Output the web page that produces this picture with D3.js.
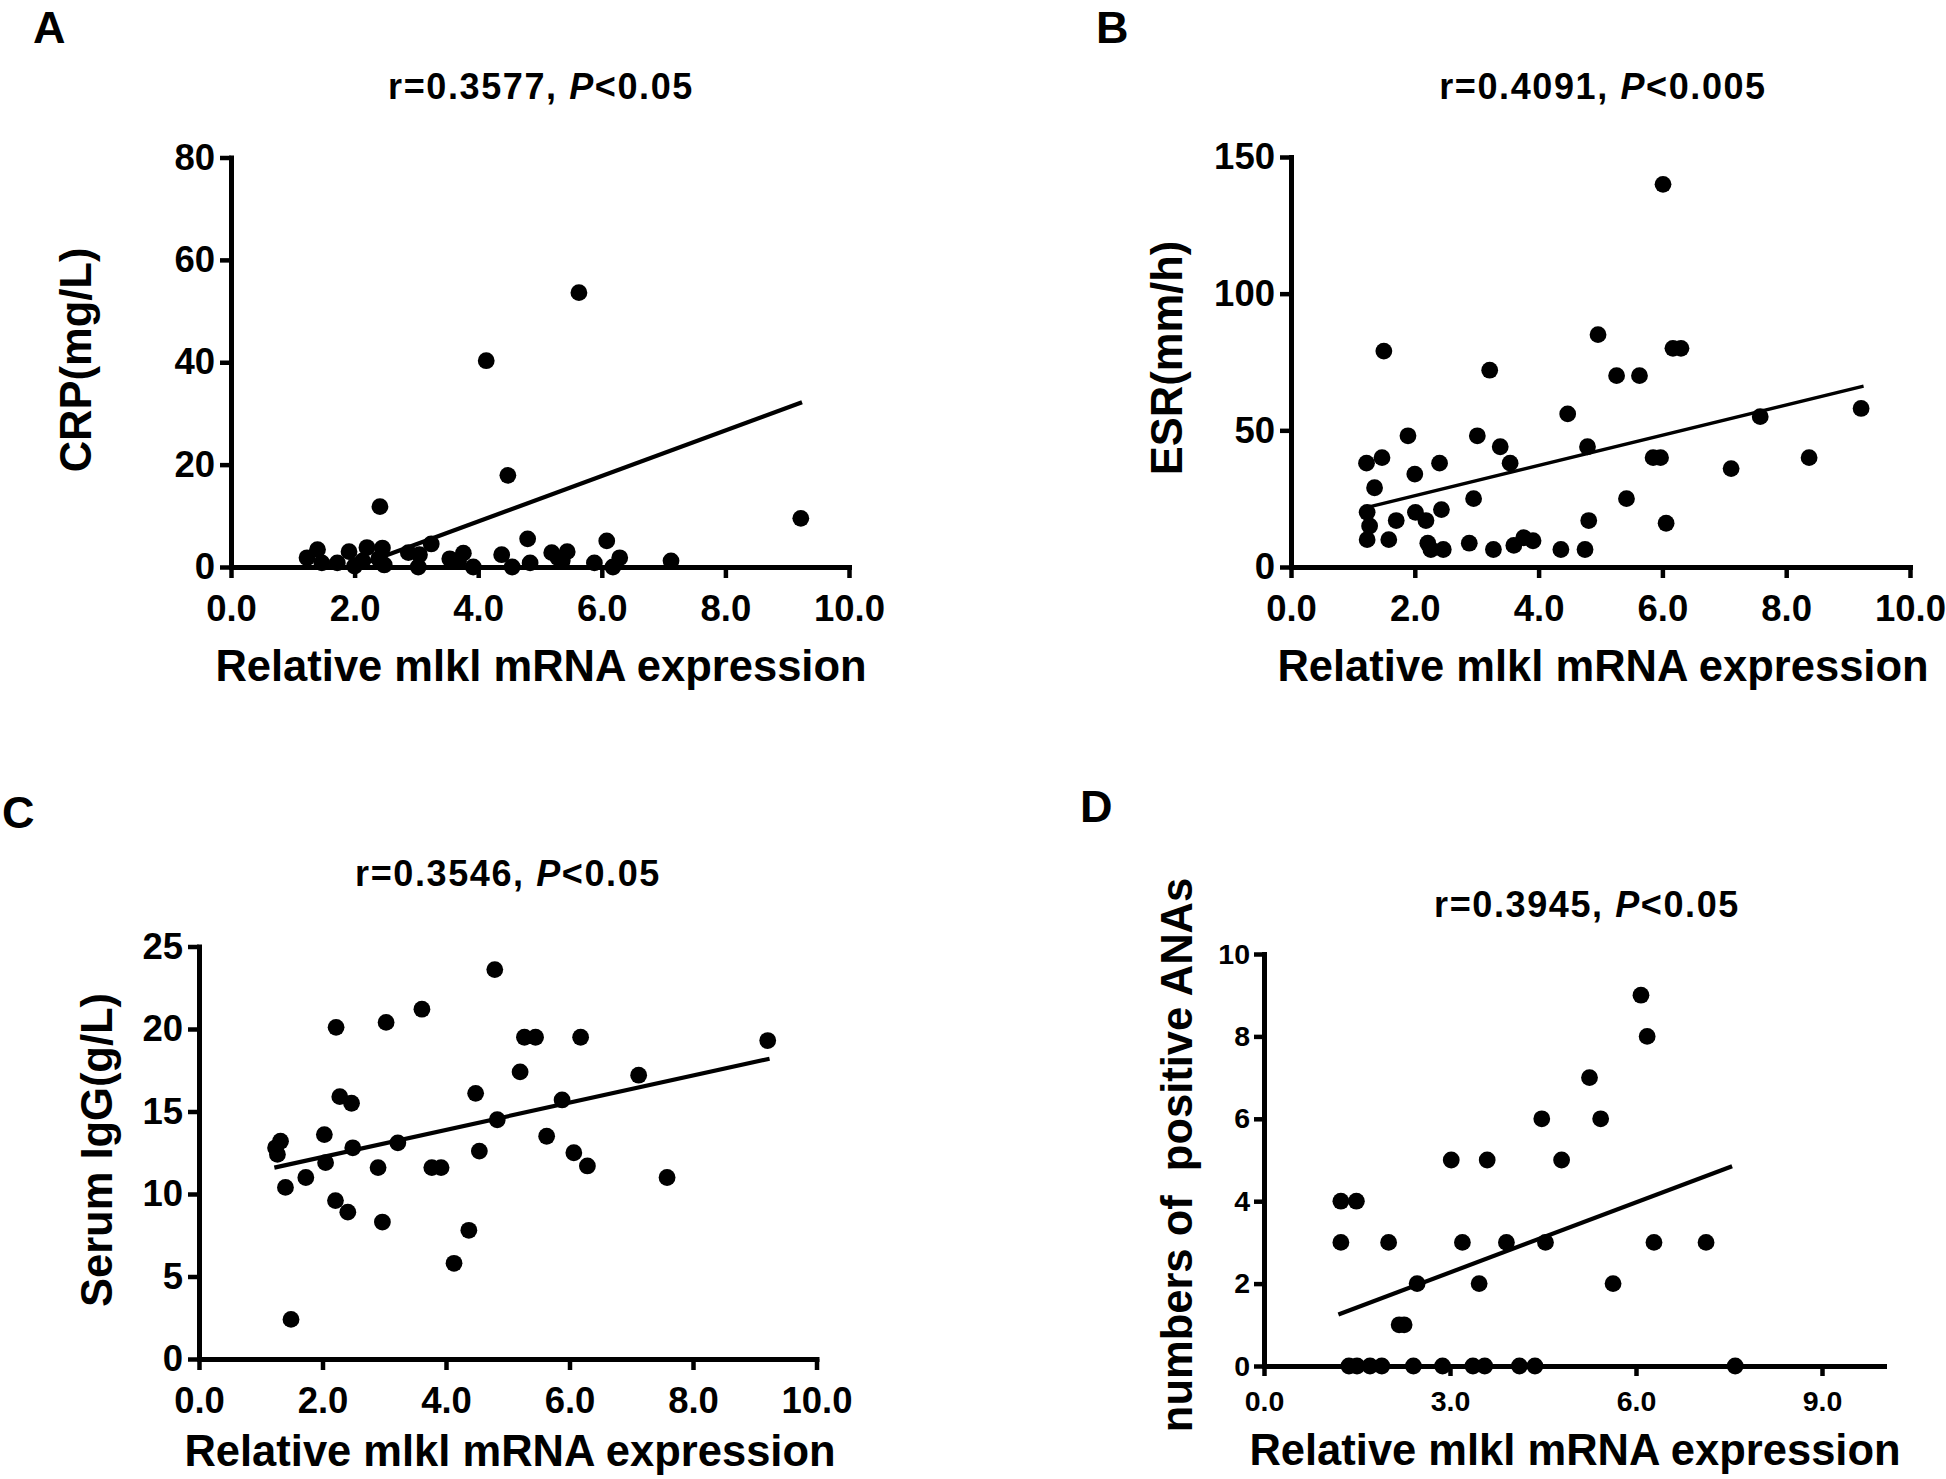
<!DOCTYPE html>
<html>
<head>
<meta charset="utf-8">
<script src="https://cdn.jsdelivr.net/npm/d3@7"></script>
<style>
  html, body { margin: 0; padding: 0; background: #fff; }
  svg { display: block; }
  text { font-family: "Liberation Sans", Arial, Helvetica, sans-serif; font-weight: bold; fill: #000; }
</style>
</head>
<body>
<svg id="chart" width="1946" height="1479"></svg>
<script>
// ---------------- DATA ----------------
const xLabel = "Relative mlkl mRNA expression";

// Panel A: CRP
const crpTitle = ["r=0.3577, ", "P", "<0.05"];
const crpYLabel = "CRP(mg/L)";
const crpYTicks = [0, 20, 40, 60, 80];
const crpXTicks = [0, 2, 4, 6, 8, 10];
const crpPoints = [
  [5.63,53.6],[4.13,40.3],[4.48,17.9],[2.41,11.8],[9.22,9.5],[4.80,5.5],[6.08,5.1],
  [1.40,3.4],[1.23,1.8],[1.47,0.8],[1.72,0.8],[1.91,3.0],[2.00,0.2],[2.20,3.8],
  [2.13,1.2],[2.45,3.7],[2.39,1.6],[2.48,0.4],[2.87,2.8],[3.03,0.0],[3.05,2.4],
  [3.24,4.5],[3.54,1.6],[3.76,2.7],[3.68,1.1],[3.92,0.0],[4.38,2.4],[4.55,0.0],
  [4.84,0.8],[5.19,2.8],[5.44,3.0],[5.36,1.2],[5.88,0.8],[6.18,0.0],[6.29,1.8],
  [7.12,1.2],[5.29,1.8]
];
const crpFit = [[2.0, 0], [9.24, 32.2]];

// Panel B: ESR
const esrTitle = ["r=0.4091, ", "P", "<0.005"];
const esrYLabel = "ESR(mm/h)";
const esrYTicks = [0, 50, 100, 150];
const esrXTicks = [0, 2, 4, 6, 8, 10];
const esrPoints = [
  [6.01,140],[4.96,85],[1.50,79],[6.17,80],[6.30,80],[3.21,72],[5.26,70],[5.63,70],
  [4.47,56],[7.58,55],[9.21,58],[1.89,48],[3.01,48],[3.38,44],[4.79,44],[1.22,38],
  [1.47,40],[2.40,38],[3.54,38],[5.85,40],[5.97,40],[8.37,40],[7.11,36],[2.00,34],
  [1.35,29],[2.95,25],[5.42,25],[1.23,20],[2.01,20],[2.43,21],[1.27,15],[1.70,17],
  [2.18,17],[4.81,17],[6.06,16],[1.23,10],[1.58,10],[2.21,8.7],[2.26,6.4],[2.46,6.4],
  [2.88,8.7],[3.27,6.4],[3.60,7.9],[3.76,10.7],[3.91,9.6],[4.36,6.4],[4.75,6.4]
];
const esrFit = [[1.23, 21.8], [9.25, 66.2]];

// Panel C: Serum IgG
const iggTitle = ["r=0.3546, ", "P", "<0.05"];
const iggYLabel = "Serum IgG(g/L)";
const iggYTicks = [0, 5, 10, 15, 20, 25];
const iggXTicks = [0, 2, 4, 6, 8, 10];
const iggPoints = [
  [4.79,23.6],[3.61,21.2],[3.03,20.4],[2.22,20.1],[5.27,19.5],[5.45,19.5],[6.18,19.5],
  [9.21,19.3],[5.20,17.4],[7.12,17.2],[4.48,16.1],[2.28,15.9],[2.47,15.5],[5.88,15.7],
  [4.83,14.5],[2.03,13.6],[5.63,13.5],[3.22,13.1],[2.49,12.8],[1.32,13.2],[1.24,12.8],
  [1.27,12.4],[4.54,12.6],[6.07,12.5],[2.05,11.9],[2.90,11.6],[3.77,11.6],[3.92,11.6],
  [6.29,11.7],[1.73,11.0],[7.58,11.0],[1.40,10.4],[2.21,9.6],[2.41,8.9],[2.97,8.3],
  [4.37,7.8],[4.13,5.8],[1.49,2.4]
];
const iggFit = [[1.22, 11.6], [9.24, 18.2]];

// Panel D: numbers of positive ANAs
const anaTitle = ["r=0.3945, ", "P", "<0.05"];
const anaYLabel = "numbers of  positive ANAs";
const anaYTicks = [0, 2, 4, 6, 8, 10];
const anaXTicks = [0, 3, 6, 9];
const anaPoints = [
  [6.08,9],[6.18,8],[5.25,7],[4.48,6],[5.43,6],[3.02,5],[3.60,5],[4.80,5],
  [1.24,4],[1.49,4],[1.24,3],[2.01,3],[3.20,3],[3.91,3],[4.54,3],[6.29,3],[7.13,3],
  [2.47,2],[3.47,2],[5.63,2],[2.18,1],[2.26,1],
  [1.37,0],[1.50,0],[1.71,0],[1.90,0],[2.41,0],[2.88,0],[3.37,0],[3.56,0],
  [4.12,0],[4.37,0],[7.60,0]
];
const anaFit = [[1.20, 1.25], [7.55, 4.85]];

// ---------------- LAYOUT ----------------
const panels = [
  { letter: "A", lx: 33, ly: 43, title: crpTitle, tx: 541, ty: 99,
    yLabel: crpYLabel, ylx: 91, yly: 360, xlx: 541, xly: 681,
    points: crpPoints, fit: crpFit, xTicks: crpXTicks, yTicks: crpYTicks, yMax: 80,
    x0: 231, x1: 849, y0: 567, y1: 157.5, tickFont: 36.5, tickLen: 11, xPad: 17, yPad: 5, fitW: 4.3 },
  { letter: "B", lx: 1096, ly: 43, title: esrTitle, tx: 1603, ty: 99,
    yLabel: esrYLabel, ylx: 1182, yly: 358, xlx: 1603, xly: 681,
    points: esrPoints, fit: esrFit, xTicks: esrXTicks, yTicks: esrYTicks, yMax: 150,
    x0: 1291, x1: 1910, y0: 567, y1: 157, tickFont: 36.5, tickLen: 11, xPad: 17, yPad: 5, fitW: 3.4 },
  { letter: "C", lx: 2, ly: 828, title: iggTitle, tx: 508, ty: 886,
    yLabel: iggYLabel, ylx: 112, yly: 1150, xlx: 510, xly: 1466,
    points: iggPoints, fit: iggFit, xTicks: iggXTicks, yTicks: iggYTicks, yMax: 25,
    x0: 199, x1: 816.5, y0: 1359, y1: 946.5, tickFont: 36.5, tickLen: 11, xPad: 17, yPad: 5, fitW: 4.2 },
  { letter: "D", lx: 1080, ly: 822, title: anaTitle, tx: 1587, ty: 917,
    yLabel: anaYLabel, ylx: 1192, yly: 1155, xlx: 1575, xly: 1465,
    points: anaPoints, fit: anaFit, xTicks: anaXTicks, yTicks: anaYTicks, yMax: 10,
    x0: 1264, x1: 1884, y0: 1366, y1: 954, tickFont: 28.5, tickLen: 10, xPad: 15, yPad: 4, fitW: 4.2 }
];

const svg = d3.select("#chart");
svg.append("rect").attr("width", 1946).attr("height", 1479).attr("fill", "#fff");

panels.forEach(p => {
  const g = svg.append("g");
  const x = d3.scaleLinear().domain([0, 10]).range([p.x0, p.x1]);
  const y = d3.scaleLinear().domain([0, p.yMax]).range([p.y0, p.y1]);

  // panel letter
  g.append("text").attr("x", p.lx).attr("y", p.ly)
    .attr("font-size", 45).text(p.letter);

  // title with italic P
  const t = g.append("text").attr("x", p.tx).attr("y", p.ty)
    .attr("text-anchor", "middle").attr("font-size", 36)
    .attr("letter-spacing", 1.6);
  t.append("tspan").text(p.title[0]);
  t.append("tspan").attr("font-style", "italic").text(p.title[1]);
  t.append("tspan").text(p.title[2]);

  // axes
  const xAxis = d3.axisBottom(x).tickValues(p.xTicks)
    .tickFormat(d3.format(".1f")).tickSize(p.tickLen).tickSizeOuter(0).tickPadding(p.xPad);
  const yAxis = d3.axisLeft(y).tickValues(p.yTicks)
    .tickFormat(d3.format("d")).tickSize(p.tickLen).tickSizeOuter(0).tickPadding(p.yPad);

  const gx = g.append("g").attr("transform", `translate(0,${p.y0})`).call(xAxis);
  const gy = g.append("g").attr("transform", `translate(${p.x0},0)`).call(yAxis);
  [gx, gy].forEach(a => {
    a.select(".domain").attr("stroke", "#000").attr("stroke-width", 5).attr("stroke-linecap", "square");
    a.selectAll(".tick line").attr("stroke", "#000").attr("stroke-width", 4.5);
    a.selectAll(".tick text").attr("font-size", p.tickFont)
      .attr("font-family", "'Liberation Sans', Arial, sans-serif").attr("font-weight", "bold").attr("fill", "#000");
  });

  // axis titles
  g.append("text").attr("x", p.xlx).attr("y", p.xly)
    .attr("text-anchor", "middle").attr("font-size", 43.5).text(xLabel);
  g.append("text")
    .attr("transform", `translate(${p.ylx},${p.yly}) rotate(-90)`)
    .attr("text-anchor", "middle").attr("font-size", 43.5)
    .style("white-space", "pre").text(p.yLabel);

  // points
  g.append("g").selectAll("circle").data(p.points).join("circle")
    .attr("cx", d => x(d[0])).attr("cy", d => y(d[1])).attr("r", 8.4).attr("fill", "#000");

  // fit line
  g.append("line")
    .attr("x1", x(p.fit[0][0])).attr("y1", y(p.fit[0][1]))
    .attr("x2", x(p.fit[1][0])).attr("y2", y(p.fit[1][1]))
    .attr("stroke", "#000").attr("stroke-width", p.fitW);
});
</script>
</body>
</html>
